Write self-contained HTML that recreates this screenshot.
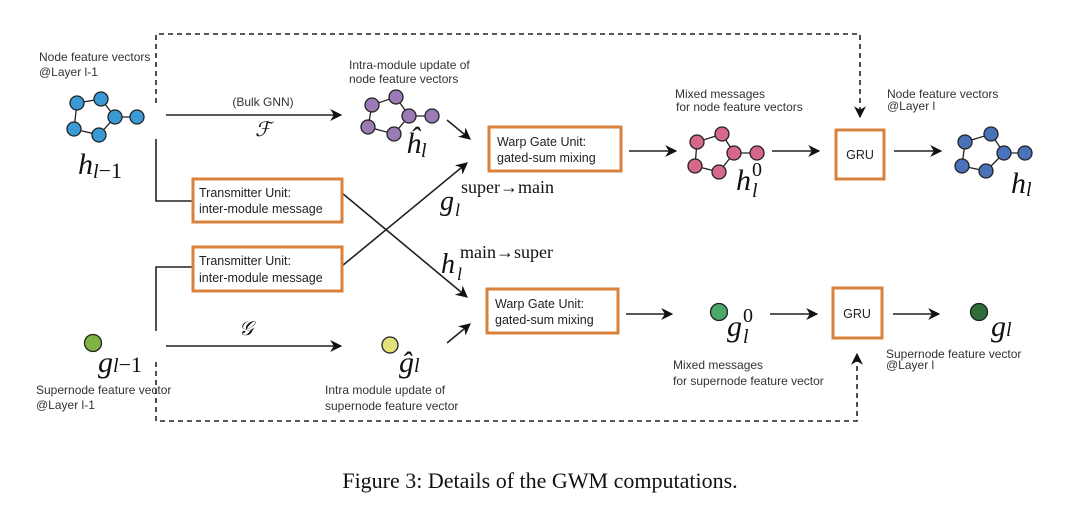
<!DOCTYPE html>
<html><head><meta charset="utf-8"><style>
html,body{margin:0;padding:0;background:#fff;}
svg{display:block;}
.l{font-family:"Liberation Sans",sans-serif;font-size:12px;fill:#333;}
.b{font-family:"Liberation Sans",sans-serif;font-size:12.5px;fill:#222;}
.m{font-family:"Liberation Serif",serif;font-style:italic;fill:#111;}
.s{font-family:"Liberation Serif",serif;fill:#111;}
</style></head><body>
<svg width="1080" height="522" viewBox="0 0 1080 522" xmlns="http://www.w3.org/2000/svg">
<defs><marker id="a" viewBox="0 0 10 10" refX="9" refY="5" markerWidth="12" markerHeight="12" orient="auto-start-reverse" markerUnits="userSpaceOnUse"><path d="M0,0 L10,5 L0,10 L3,5 z" fill="#111"/></marker></defs>
<g stroke="#222" stroke-width="1.6" fill="none">
<path d="M156,103 V34 H860 V117" stroke-dasharray="5,4" marker-end="url(#a)"/>
<path d="M156,362 V421 H857 V354" stroke-dasharray="5,4" marker-end="url(#a)"/>
<path d="M156,139 V201 H193"/>
<path d="M156,331 V267 H193"/>
<line x1="166" y1="115" x2="341" y2="115" marker-end="url(#a)"/>
<line x1="166" y1="346" x2="341" y2="346" marker-end="url(#a)"/>
<line x1="447" y1="120" x2="470" y2="139" marker-end="url(#a)"/>
<line x1="447" y1="343" x2="470" y2="324" marker-end="url(#a)"/>
<line x1="342" y1="193" x2="467" y2="297" marker-end="url(#a)"/>
<line x1="342" y1="266" x2="467" y2="163" marker-end="url(#a)"/>
<line x1="629" y1="151" x2="676" y2="151" marker-end="url(#a)"/>
<line x1="772" y1="151" x2="819" y2="151" marker-end="url(#a)"/>
<line x1="894" y1="151" x2="941" y2="151" marker-end="url(#a)"/>
<line x1="626" y1="314" x2="672" y2="314" marker-end="url(#a)"/>
<line x1="770" y1="314" x2="817" y2="314" marker-end="url(#a)"/>
<line x1="893" y1="314" x2="939" y2="314" marker-end="url(#a)"/>
</g>
<g stroke="#d9823b" stroke-width="3" fill="#fff">
<rect x="193" y="179" width="149" height="43"/>
<rect x="193" y="247" width="149" height="44"/>
<rect x="489" y="127" width="132" height="44"/>
<rect x="487" y="289" width="131" height="44"/>
<rect x="836" y="130" width="48" height="49"/>
<rect x="833" y="288" width="49" height="50"/>
</g>
<text class="b" x="199" y="197">Transmitter Unit:</text>
<text class="b" x="199" y="213">inter-module message</text>
<text class="b" x="199" y="265">Transmitter Unit:</text>
<text class="b" x="199" y="282">inter-module message</text>
<text class="b" x="497" y="146">Warp Gate Unit:</text>
<text class="b" x="497" y="162">gated-sum mixing</text>
<text class="b" x="495" y="308">Warp Gate Unit:</text>
<text class="b" x="495" y="324">gated-sum mixing</text>
<text class="b" x="860" y="159" text-anchor="middle">GRU</text>
<text class="b" x="857" y="318" text-anchor="middle">GRU</text>
<g stroke="#222" stroke-width="1.3">
<g fill="#3a9ad6"><path d="M77,103 L101,99 L115,117 L99,135 L74,129 Z M115,117 L137,117" fill="none"/>
<circle cx="77" cy="103" r="7"/><circle cx="101" cy="99" r="7"/><circle cx="115" cy="117" r="7"/><circle cx="137" cy="117" r="7"/><circle cx="99" cy="135" r="7"/><circle cx="74" cy="129" r="7"/></g>
<g fill="#9b7bb5"><path d="M372,105 L396,97 L409,116 L394,134 L368,127 Z M409,116 L432,116" fill="none"/>
<circle cx="372" cy="105" r="7"/><circle cx="396" cy="97" r="7"/><circle cx="409" cy="116" r="7"/><circle cx="432" cy="116" r="7"/><circle cx="394" cy="134" r="7"/><circle cx="368" cy="127" r="7"/></g>
<g fill="#d7688a"><path d="M697,142 L722,134 L734,153 L719,172 L695,166 Z M734,153 L757,153" fill="none"/>
<circle cx="697" cy="142" r="7"/><circle cx="722" cy="134" r="7"/><circle cx="734" cy="153" r="7"/><circle cx="757" cy="153" r="7"/><circle cx="719" cy="172" r="7"/><circle cx="695" cy="166" r="7"/></g>
<g fill="#4a72b8"><path d="M965,142 L991,134 L1004,153 L986,171 L962,166 Z M1004,153 L1025,153" fill="none"/>
<circle cx="965" cy="142" r="7"/><circle cx="991" cy="134" r="7"/><circle cx="1004" cy="153" r="7"/><circle cx="1025" cy="153" r="7"/><circle cx="986" cy="171" r="7"/><circle cx="962" cy="166" r="7"/></g>
<circle cx="93" cy="343" r="8.5" fill="#7fb443"/>
<circle cx="390" cy="345" r="8" fill="#e2e27a"/>
<circle cx="719" cy="312" r="8.5" fill="#4aa868"/>
<circle cx="979" cy="312" r="8.5" fill="#2f6e3a"/>
</g>
<text class="l" x="39" y="61">Node feature vectors</text>
<text class="l" x="39" y="76">@Layer l-1</text>
<text class="l" x="349" y="69">Intra-module update of</text>
<text class="l" x="349" y="83">node feature vectors</text>
<text class="l" x="675" y="98">Mixed messages</text>
<text class="l" x="676" y="111">for node feature vectors</text>
<text class="l" x="887" y="98">Node feature vectors</text>
<text class="l" x="887" y="110">@Layer l</text>
<text class="l" x="36" y="394">Supernode feature vector</text>
<text class="l" x="36" y="409">@Layer l-1</text>
<text class="l" x="325" y="394">Intra module update of</text>
<text class="l" x="325" y="410">supernode feature vector</text>
<text class="l" x="673" y="369">Mixed messages</text>
<text class="l" x="673" y="385">for supernode feature vector</text>
<text class="l" x="886" y="358">Supernode feature vector</text>
<text class="l" x="886" y="369">@Layer l</text>
<text class="l" x="263" y="106" text-anchor="middle">(Bulk GNN)</text>
<text class="m" x="263" y="136" text-anchor="middle" font-size="20" fill="#777">ℱ</text>
<text class="m" x="246" y="335" text-anchor="middle" font-size="20" fill="#777">𝒢</text>
<text class="m" x="78" y="174" font-size="30">h<tspan font-size="20" dy="4">l</tspan><tspan class="s" font-style="normal" font-size="22">−1</tspan></text>
<text class="m" x="406" y="153" font-size="30">ĥ<tspan font-size="20" dy="4">l</tspan></text>
<text class="m" x="736" y="190" font-size="30">h</text><text class="m" x="752" y="197" font-size="20">l</text><text class="s" x="752" y="176" font-size="20">0</text>
<text class="m" x="1011" y="193" font-size="30">h<tspan font-size="20" dy="3">l</tspan></text>
<text class="m" x="440" y="210" font-size="28">g</text><text class="m" x="455" y="216" font-size="18">l</text>
<text class="s" x="461" y="193" font-size="18">super→main</text>
<text class="m" x="441" y="273" font-size="28">h</text><text class="m" x="457" y="280" font-size="18">l</text>
<text class="s" x="460" y="258" font-size="18">main→super</text>
<text class="m" x="98" y="372" font-size="30">g<tspan font-size="20">l</tspan><tspan class="s" font-style="normal" font-size="22">−1</tspan></text>
<text class="m" x="399" y="372" font-size="30">ĝ<tspan font-size="20">l</tspan></text>
<text class="m" x="727" y="336" font-size="30">g</text><text class="m" x="743" y="343" font-size="20">l</text><text class="s" x="743" y="322" font-size="20">0</text>
<text class="m" x="991" y="336" font-size="30">g<tspan font-size="20">l</tspan></text>
<text class="s" x="540" y="488" font-size="22" text-anchor="middle">Figure 3:  Details of the GWM computations.</text>
</svg>
</body></html>
